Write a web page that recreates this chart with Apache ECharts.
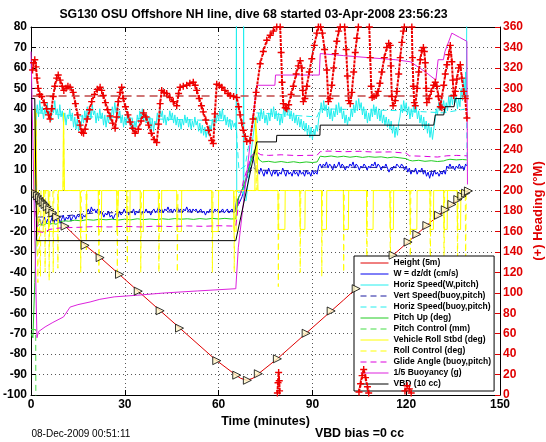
<!DOCTYPE html>
<html>
<head>
<meta charset="utf-8">
<script src="https://cdn.jsdelivr.net/npm/echarts@6/dist/echarts.min.js"></script>
<style>
html,body{margin:0;padding:0;background:#fff;}
#chart{width:546px;height:442px;}
</style>
</head>
<body>
<div id="chart"></div>
<script>
// ---------------- data (time in minutes) ----------------
const titleText = "SG130 OSU Offshore NH line, dive 68 started 03-Apr-2008 23:56:23";
const footerLeft = "08-Dec-2009 00:51:11";
const footerRight = "VBD bias =0 cc";
const xName = "Time (minutes)";
const rightName = "(+) Heading (\u00B0M)";

const depth = [[0.5,0],[2,-2.5],[5,-7.5],[10,-16],[16.6,-25.8],[22.7,-33.5],[40,-57],[58.9,-82.6],[65.3,-90],[67,-91.8],[69,-92.8],[71,-91.8],[73,-89.3],[79,-82],[100,-53.5],[115.8,-31.6],[130,-12.5],[140,0]];

const depthMarks = [[1.5,-1.5],[2.1,-2.6],[2.7,-3.7],[3.3,-4.8],[3.9,-5.8],[4.5,-6.8],[5.2,-7.9],[6.0,-9.3],[7.0,-11],[8.2,-13],[10.9,-17.4],[17.3,-26.8],[22.1,-32.8],[28.3,-41],[34.3,-49.2],[41.3,-58.8],[47.5,-67.3],[59.4,-83.2],[65.8,-90.3],[69.2,-92.8],[72.7,-89.6],[78.8,-82.3],[88,-69.8],[96,-58.9],[104,-48],[115.8,-31.6],[120.6,-25.2],[123.4,-21.4],[126.6,-17.1],[130.3,-12.1],[132.5,-9.4],[134.6,-6.8],[136.5,-4.4],[137.8,-2.8],[139,-1.3],[139.9,-0.2]];

const wSpeed = [[1.5,-3],[1.9,-13],[2.3,-16],[2.8,-14],[3.3,-17],[3.8,-15],[4.3,-13],[4.8,-16],[5.3,-14],[5.8,-17],[6.3,-15],[6.8,-13],[7.3,-16],[7.8,-14],[8.3,-15],[8.8,-13],[9.3,-16],[9.8,-14],[10.3,-12],[10.8,-15],[11.3,-13],[11.8,-14],[12.3,-12],[12.8,-15],[13.3,-13],[13.8,-12],[14.3,-14],[14.8,-12],[15.3,-13],[15.8,-11],[16.3,-14],[16.8,-12],[17.3,-13],[17.8,-11],[18.3,-9],[18.8,-11],[19.3,-8],[19.8,-10],[20.3,-9],[20.8,-11],[21.3,-9],[21.8,-12],[22.3,-10],[22.8,-11],[23.3,-13],[23.8,-11],[24.3,-12],[24.8,-10],[25.3,-13],[25.8,-12],[26.3,-14],[26.8,-12],[27.3,-11],[27.8,-13],[28.3,-10],[28.8,-12],[29.3,-11],[29.8,-9],[30.3,-11],[30.8,-10],[31.3,-12],[31.8,-10],[32.3,-11],[32.8,-9],[33.3,-12],[33.8,-10],[34.3,-11],[34.8,-9],[35.3,-12],[35.8,-10],[36.3,-11],[36.8,-9],[37.3,-11],[37.8,-10],[38.3,-12],[38.8,-10],[39.3,-9],[39.8,-11],[40.3,-10],[40.8,-8],[41.3,-10],[41.8,-9],[42.3,-11],[42.8,-9],[43.3,-10],[43.8,-8],[44.3,-10],[44.8,-9],[45.3,-11],[45.8,-9],[46.3,-10],[46.8,-8],[47.3,-10],[47.8,-9],[48.3,-11],[48.8,-9],[49.3,-10],[49.8,-8],[50.3,-10],[50.8,-9],[51.3,-11],[51.8,-9],[52.3,-10],[52.8,-9],[53.3,-11],[53.8,-10],[54.3,-9],[54.8,-11],[55.3,-10],[55.8,-12],[56.3,-10],[56.8,-11],[57.3,-9],[57.8,-10],[58.3,-11],[58.8,-9],[59.3,-10],[59.8,-9],[60.3,-11],[60.8,-10],[61.3,-9],[61.8,-11],[62.3,-10],[62.8,-9],[63.3,-11],[63.8,-10],[64.3,-9],[64.8,-11],[65.3,-10],[65.8,-4],[66.5,-6.5],[67.5,-3],[68.5,3],[69.5,10],[70.5,17],[71.2,15],[72.0,9],[72.5,10],[73,8],[73.5,11],[74,9],[74.5,7],[75,10],[75.5,8],[76,11],[76.5,9],[77,7],[77.5,10],[78,8],[78.5,10],[79,7],[79.5,9],[80,8],[80.5,11],[81,9],[81.5,7],[82,10],[82.5,8],[83,9],[83.5,7],[84,10],[84.5,8],[85,9],[85.5,7],[86,10],[86.5,8],[87,9],[87.5,7],[88,10],[88.5,8],[89,9],[89.5,7],[90,10],[90.5,8],[91,9],[91.5,8],[92,12],[92.5,13],[93,11],[93.5,13],[94,12],[94.5,14],[95,11],[95.5,13],[96,12],[96.5,10],[97,13],[97.5,11],[98,12],[98.5,14],[99,11],[99.5,13],[100,12],[100.5,10],[101,12],[101.5,11],[102,13],[102.5,12],[103,14],[103.5,11],[104,13],[104.5,12],[105,10],[105.5,12],[106,11],[106.5,13],[107,12],[107.5,10],[108,12],[108.5,11],[109,13],[109.5,12],[110,14],[110.5,11],[111,13],[111.5,12],[112,10],[112.5,12],[113,11],[113.5,13],[114,11],[114.5,9],[115,11],[115.5,10],[116,12],[116.5,11],[117,13],[117.5,12],[118,11],[118.5,13],[119,12],[119.5,10],[120,12],[120.5,9],[121,11],[121.5,8],[122,10],[122.5,9],[123,11],[123.5,8],[124,10],[124.5,9],[125,11],[125.5,8],[126,10],[126.5,7],[127,9],[127.5,6],[128,9],[128.5,7],[129,10],[129.5,8],[130,9],[130.5,7],[131,9],[131.5,8],[132,10],[132.5,8],[133,12],[133.5,11],[134,13],[134.5,11],[135,12],[135.5,10],[136,12],[136.5,11],[137,13],[137.5,11],[138,12],[138.5,10],[139,13],[139.4,12]];

const horizSpeed = [[1.3,0],[1.5,20],[1.7,38],[2.0,42],[2.4,36],[2.8,44],[3.2,38],[3.6,41],[4.0,35],[4.4,40],[4.8,37],[5.2,43],[5.6,36],[6.0,39],[6.4,34],[6.8,41],[7.2,38],[7.6,44],[8.0,37],[8.4,40],[8.8,35],[9.2,42],[9.6,36],[10.0,39],[10.4,33],[10.8,38],[11.2,32],[11.6,37],[12.0,35],[12.4,40],[12.8,34],[13.2,38],[13.6,31],[14.0,36],[14.4,30],[14.8,35],[15.2,29],[15.6,34],[16.0,31],[16.4,37],[16.8,33],[17.2,39],[17.6,34],[18.0,41],[18.4,36],[18.8,40],[19.2,35],[19.6,42],[20.0,37],[20.4,39],[20.8,33],[21.2,38],[21.6,34],[22.0,40],[22.4,35],[22.8,38],[23.2,32],[23.6,37],[24.0,31],[24.4,36],[24.8,33],[25.2,38],[25.6,34],[26.0,41],[26.4,37],[26.8,43],[27.2,38],[27.6,41],[28.0,35],[28.4,39],[28.8,33],[29.2,37],[29.6,31],[30.0,36],[30.4,32],[30.8,38],[31.2,33],[31.6,36],[32.0,30],[32.4,35],[32.8,29],[33.2,34],[33.6,31],[34.0,37],[34.4,33],[34.8,39],[35.2,35],[35.6,40],[36.0,34],[36.4,38],[36.8,33],[37.2,37],[37.6,31],[38.0,36],[38.4,30],[38.8,35],[39.2,29],[39.6,34],[40.0,32],[40.4,38],[40.8,34],[41.2,40],[41.6,36],[42.0,39],[42.4,33],[42.8,37],[43.2,32],[43.6,36],[44.0,34],[44.4,39],[44.8,35],[45.2,38],[45.6,33],[46.0,37],[46.4,32],[46.8,36],[47.2,31],[47.6,35],[48.0,30],[48.4,35],[48.8,32],[49.2,37],[49.6,33],[50.0,36],[50.4,31],[50.8,35],[51.2,30],[51.6,34],[52.0,31],[52.4,36],[52.8,32],[53.2,34],[53.6,29],[54.0,33],[54.4,28],[54.8,32],[55.2,27],[55.6,31],[56.0,26],[56.4,30],[56.8,27],[57.2,32],[57.6,29],[58.0,35],[58.4,31],[58.8,37],[59.2,33],[59.6,38],[60.0,34],[60.4,39],[60.8,35],[61.2,40],[61.6,34],[62.0,37],[62.4,32],[62.8,36],[63.2,31],[63.6,35],[64.0,30],[64.4,34],[64.8,31],[65.2,33],[65.6,30],[65.7,90],[65.8,0],[66.5,-1],[67.2,0],[67.9,-2],[68.0,90],[68.1,-4],[68.8,-5],[69.5,5],[70.2,15],[70.8,24],[71.4,31],[72.0,36],[72.4,33],[72.8,38],[73.2,34],[73.6,40],[74.0,35],[74.4,39],[74.8,33],[75.2,37],[75.6,32],[76.0,38],[76.4,34],[76.8,40],[77.2,36],[77.6,41],[78.0,35],[78.4,39],[78.8,34],[79.2,38],[79.6,32],[80.0,37],[80.4,33],[80.8,40],[81.2,36],[81.6,42],[82.0,37],[82.4,41],[82.8,35],[83.2,39],[83.6,34],[84.0,38],[84.4,33],[84.8,37],[85.2,32],[85.6,36],[86.0,31],[86.4,35],[86.8,30],[87.2,34],[87.6,29],[88.0,33],[88.4,27],[88.8,32],[89.2,26],[89.6,31],[90.0,25],[90.4,30],[90.8,27],[91.2,32],[91.6,29],[92.0,35],[92.4,38],[92.8,43],[93.2,38],[93.6,44],[94.0,39],[94.4,42],[94.8,36],[95.2,41],[95.6,35],[96.0,40],[96.4,34],[96.8,39],[97.2,36],[97.6,42],[98.0,37],[98.4,43],[98.8,38],[99.2,41],[99.6,35],[100.0,39],[100.4,33],[100.8,37],[101.2,32],[101.6,36],[102.0,34],[102.4,40],[102.8,36],[103.2,42],[103.6,38],[104.0,44],[104.4,39],[104.8,45],[105.2,40],[105.6,43],[106.0,37],[106.4,41],[106.8,35],[107.2,39],[107.6,33],[108.0,38],[108.4,34],[108.8,40],[109.2,36],[109.6,42],[110.0,37],[110.4,41],[110.8,35],[111.2,40],[111.6,34],[112.0,39],[112.4,33],[112.8,37],[113.2,32],[113.6,36],[114.0,31],[114.4,35],[114.8,30],[115.2,34],[115.6,28],[116.0,32],[116.4,26],[116.8,31],[117.2,27],[117.6,33],[118.0,36],[118.4,42],[118.8,38],[119.2,44],[119.6,39],[120.0,43],[120.4,37],[120.8,41],[121.2,35],[121.6,40],[122.0,36],[122.4,42],[122.8,38],[123.2,41],[123.6,35],[124.0,39],[124.4,33],[124.8,37],[125.2,31],[125.6,36],[126.0,30],[126.4,34],[126.8,28],[127.2,33],[127.6,26],[128.0,31],[128.4,25],[128.8,30],[129.2,34],[129.6,40],[130.0,37],[130.4,43],[130.8,39],[131.2,45],[131.6,40],[132.0,44],[132.4,38],[132.8,43],[133.2,39],[133.6,46],[134.0,41],[134.4,47],[134.8,42],[135.2,48],[135.6,43],[136.0,46],[136.4,40],[136.8,45],[137.2,41],[137.6,50],[138.0,44],[138.4,55],[138.8,46],[139.0,58],[139.2,45],[139.4,90]];

const vertSpeedBuoy = [[2,-13],[10,-12.5],[20,-11],[40,-10.5],[65.5,-10.3],[66.5,-3],[68.5,4],[70.5,12],[72,10],[91.5,9.5],[92.5,11.5],[120,11.2],[121,9.5],[132,9.3],[133,11],[139.4,11]];

const horizSpeedBuoy = [[2,38],[10,37],[20,36],[40,35],[65.5,34],[66.5,10],[68.5,12],[70.5,30],[72,38],[91.5,36],[92.5,40],[120,39],[132,38],[139.3,40],[139.5,12]];

const pitchUp = [[0,-70],[0.6,-72],[1.2,-45],[1.7,-20],[2.2,-17],[3,-16.5],[4,-17],[5,-16],[6,-16.5],[7,-16],[8,-16.5],[9,-15.5],[10,-15],[11,-14.8],[12,-15],[14,-14.5],[16,-14.8],[18,-14.2],[20,-14.5],[22,-14],[24,-14.3],[26,-14],[28,-14.4],[30,-14],[32,-14.3],[34,-13.8],[36,-14.2],[38,-13.9],[40,-14.2],[42,-13.8],[44,-14.1],[46,-13.7],[48,-14],[50,-13.8],[52,-14.1],[54,-13.7],[56,-14],[58,-13.6],[60,-13.9],[62,-13.6],[64,-13.9],[65.5,-13.8],[66.2,-4],[67.5,0],[70,12],[71.5,20],[73,15],[74,14],[76,14.3],[78,13.8],[80,14.2],[82,13.7],[84,14.1],[86,13.6],[88,14],[90,13.7],[91.5,14],[92.5,16.8],[94,16.5],[96,16.9],[98,16.4],[100,16.8],[102,16.3],[104,16.7],[106,16.2],[108,16.6],[110,16.3],[112,16.5],[114,16],[116,16.4],[118,16],[120,15.6],[121,14.8],[122,14.5],[124,14.8],[126,14.3],[128,14.6],[130,14.2],[132,14.5],[133,15],[134,15.3],[136,15],[138,15.2],[139.4,15]];

const pitchControl = [[0,-68],[1.5,-68],[1.55,-105]];

const roll = [[0,0],[1.0,0],[1.3,40],[1.6,30],[1.9,-10],[2.1,-20],[3.9,-20],[4.0,0],[5.5,0],[5.6,-20],[8.6,-20],[8.7,0],[10.2,0],[10.4,38],[10.7,0],[15.7,0],[15.8,-20],[17.7,-20],[17.8,0],[21.5,0],[21.6,-20],[22.5,-20],[22.6,0],[27.4,0],[27.5,-20],[27.9,-20],[28.0,0],[30.6,0],[30.7,-20],[31.6,-20],[31.7,0],[34.9,0],[35.0,-20],[35.9,-20],[36.0,0],[40.7,0],[40.8,-20],[41.7,-20],[41.8,0],[46.6,0],[46.7,-20],[48.1,-20],[48.2,0],[57.8,0],[57.9,-20],[59.9,-20],[60.0,0],[64.8,0],[64.9,-20],[65.6,-20],[65.7,0],[71.6,0],[71.8,36],[72.3,25],[72.6,0],[79.0,0],[79.1,-19],[81.2,-19],[81.3,0],[86.0,0],[86.1,-19],[87.6,-19],[87.7,0],[92.9,0],[93.0,-19],[94.5,-19],[94.6,0],[99.9,0],[100.0,-19],[101.5,-19],[101.6,0],[107.3,0],[107.4,-19],[109.4,-19],[109.5,0],[114.8,0],[114.9,-19],[115.9,-19],[116.0,0],[121.2,0],[121.3,-19],[123.4,-19],[123.5,0],[127.6,0],[127.7,-19],[128.7,-19],[128.8,0],[132.0,0],[132.1,-19],[133.1,-19],[133.2,0],[136.3,0],[136.4,-19],[137.4,-19],[137.5,0],[139.4,0]];

const rollControl = [[0,0],[1.5,0],[1.6,38],[1.8,0],[2.1,0],[2.2,-45],[2.4,0],[2.9,0],[3.0,-42],[3.2,0],[4.4,0],[4.5,-40],[4.7,0],[5.7,0],[5.8,-44],[6.0,0],[7.0,0],[7.1,-40],[7.3,0],[8.5,0],[8.6,-38],[8.8,0],[10.3,0],[10.4,38],[10.6,0],[15.8,0],[15.9,-40],[16.1,0],[17.6,0],[17.7,-30],[17.9,0],[21.6,0],[21.7,-40],[21.9,0],[27.5,0],[27.6,-40],[27.8,0],[30.7,0],[30.8,-36],[31,0],[35,0],[35.1,-40],[35.3,0],[40.8,0],[40.9,-40],[41.1,0],[46.7,0],[46.8,-40],[47,0],[57.9,0],[58,-40],[58.2,0],[64.9,0],[65,-40],[65.2,0],[72,0],[72.1,30],[72.3,0],[79,0],[79.1,-47],[79.3,0],[86,0],[86.1,-40],[86.3,0],[92.9,0],[93,-42],[93.2,0],[99.9,0],[100,-40],[100.2,0],[107.3,0],[107.4,-45],[107.6,0],[114.8,0],[114.9,-40],[115.1,0],[121.2,0],[121.3,-42],[121.5,0],[127.6,0],[127.7,-40],[127.9,0],[132,0],[132.1,-40],[132.3,0],[136.3,0],[136.4,-40],[136.6,0],[138.9,0],[139,-40],[139.2,0]];

const glideAngle = [[1.5,-10],[2.2,-20],[4,-20.5],[6,-19],[8,-18.5],[10,-18.2],[15,-18],[20,-17.6],[25,-17.8],[30,-17.5],[35,-17.8],[40,-17.4],[45,-17.6],[50,-17.3],[55,-17.5],[60,-17.2],[65.5,-17.4],[66.5,-5],[68,5],[70.5,17],[72,19],[73.5,17.5],[76,17.2],[80,17.5],[85,17.1],[91.5,17.3],[92.5,19],[95,19.3],[100,19],[105,19.2],[110,18.8],[115,18.9],[120,18.3],[121,17],[125,16.8],[130,16.4],[133,17],[136,17.2],[139.4,17]];

const buoyancy = [[0,68],[0.2,68],[1.9,-72],[2.4,-69],[4.5,-66.7],[7,-64.5],[10.4,-61.8],[12.5,-57],[15,-55.8],[18.9,-54.5],[22,-53.2],[26.6,-52],[34,-51.2],[42.6,-50.1],[53.3,-49.1],[65.5,-48],[66.3,-28],[72.2,51.5],[78,51.5],[78.2,56.5],[92.2,56.5],[92.5,67],[100,66],[108,65],[116.5,64],[121.3,63],[124.5,59.8],[127,57],[129.5,54],[130.2,64],[131.9,64],[132.4,68],[134.6,77],[137,75],[139.4,73],[139.6,3]];

const vbd = [[0,45],[1.2,45],[1.8,-24.5],[65.5,-24.5],[72.2,23.8],[78.5,23.8],[78.6,27],[92.4,27],[92.5,32],[128.8,32],[129.3,37],[132.0,37],[132.4,41],[135.3,41],[135.7,45],[139.5,45]];

const heading = [[0.5,318],[0.8,325],[1.2,328],[1.6,321],[1.9,310],[2.3,300],[2.8,294],[3.4,292],[4.2,286],[5.0,280],[5.6,274],[6.1,270],[6.6,280],[7.1,292],[7.6,302],[8.2,310],[8.7,313],[9.3,308],[10.0,302],[10.5,298],[11.2,300],[11.8,302],[12.5,301],[13.5,296],[14.2,285],[14.9,274],[15.7,264],[16.2,257],[16.8,256],[17.3,260],[18.0,270],[18.7,279],[19.4,287],[20.3,294],[21.2,299],[22.1,301],[22.6,298],[23.1,293],[23.8,286],[24.5,279],[25.3,273],[26.1,266],[26.9,261],[27.4,272],[27.9,287],[28.5,296],[29.0,301],[29.5,290],[30.2,282],[31.0,274],[31.7,267],[32.5,261],[33.3,256],[34.3,260],[35.2,268],[36.0,276],[36.8,272],[37.6,264],[38.5,256],[39.4,250],[40.2,247],[40.8,265],[41.3,285],[41.8,298],[42.6,296],[43.4,295],[44.4,291],[45.5,287],[46.6,283],[47.2,295],[47.7,301],[48.7,302],[49.8,303],[50.8,305],[51.9,306],[52.5,303],[53.0,298],[53.8,290],[54.5,283],[55.1,277],[55.9,269],[56.8,259],[57.8,249],[58.3,246],[58.8,275],[59.4,304],[60.2,303],[61.0,301],[62.0,298],[63.0,295],[63.7,293],[64.8,292],[65.8,291],[66.4,282],[66.9,274],[67.4,266],[67.9,259],[68.5,253],[69.0,248],[70.1,249],[71.0,270],[72.0,296],[73.3,324],[74.3,336],[75.4,347],[76.5,352],[77.5,356],[78.6,360],
[78.7,'-'],[78.8,2],[79.0,12],[79.2,22],[79.4,14],[79.5,4],[79.6,'-'],
[79.7,360],[80.0,335],[80.3,306],[80.7,285],[81.3,281],[81.8,280],[82.4,284],[83.2,294],[83.9,302],[84.8,314],[85.5,322],[86.1,327],[86.6,320],[86.9,298],[87.1,287],[87.6,290],[88.2,302],[89.0,316],[89.8,329],[90.6,342],[91.4,354],[91.9,360],[92.6,360],[93.2,354],[93.9,338],[94.6,318],[95.1,287],[95.6,290],[96.2,303],[96.8,320],[97.3,334],[97.8,346],[98.4,356],[98.9,360],[100.3,360],[100.8,338],[101.2,312],[101.6,288],[102.1,285],[102.6,296],[103.2,316],[103.7,335],[104.2,349],[104.7,360],
[104.8,'-'],[104.9,3],[105.4,11],[105.9,19],[106.4,25],[107.0,17],[107.6,8],[108.0,2],[108.1,'-'],
[108.2,360],[108.5,330],[108.8,302],[109.1,291],[109.7,292],[110.4,293],[111.0,297],[111.6,305],[112.2,316],[113.0,330],[113.8,340],[114.4,344],[114.9,342],[115.1,322],[115.4,292],[115.8,283],[116.5,288],[117.0,297],[117.6,314],[118.1,330],[118.6,345],[119.1,356],[119.4,360],
[119.5,'-'],[119.6,4],[120.3,9],[121.0,6],[121.6,2],[121.7,'-'],
[121.8,360],[122.0,330],[122.3,302],[122.6,286],[122.9,283],[123.5,300],[124.0,316],[124.5,328],[125.0,337],[125.5,340],[125.8,336],[126.1,325],[126.4,300],[126.6,286],[127.3,290],[128.0,297],[128.8,303],[129.3,306],[129.8,302],[130.3,292],[130.9,282],[131.4,281],[132.0,303],[132.5,314],[133.0,323],[133.6,333],[134.1,342],[134.6,326],[134.9,308],[135.2,293],[135.7,297],[136.2,309],[136.8,320],[137.3,323],[137.8,310],[138.4,297],[138.9,290],[139.4,271]];

const targetHeading = [[0.5,292.5],[140,292.5]];

const legendNames = ["Height (5m)","W = dz/dt (cm/s)","Horiz Speed(W,pitch)","Vert Speed(buoy,pitch)","Horiz Speed(buoy,pitch)","Pitch Up (deg)","Pitch Control (mm)","Vehicle Roll Stbd (deg)","Roll Control (deg)","Glide Angle (buoy,pitch)","1/5 Buoyancy (g)","VBD (10 cc)"];

// ---------------- chart ----------------
const FONT = "'Liberation Sans', Arial, Helvetica, sans-serif";
const DASH = [6, 4];
function ln(name, data, color, dashed, extra) {
  return Object.assign({
    name: name, type: 'line', data: data, symbol: 'none',
    xAxisIndex: 0, yAxisIndex: 0,
    lineStyle: { color: color, width: 1, type: dashed ? DASH : 'solid' },
    itemStyle: { color: color },
    emphasis: { disabled: true }, silent: true, animation: false, z: 2
  }, extra || {});
}
const CROSS = 'path://M4,0H6V4H10V6H6V10H4V6H0V4H4Z';

const chart = echarts.init(document.getElementById('chart'), null, { renderer: 'canvas' });
const option = {
  animation: false,
  backgroundColor: '#ffffff',
  grid: { left: 31, right: 46, top: 27, bottom: 47, containLabel: false },
  xAxis: [{
    type: 'value', position: 'bottom', min: 0, max: 150, interval: 30,
    axisLine: { show: true, onZero: false, lineStyle: { color: '#000', width: 1 } },
    axisTick: { show: true, inside: true, length: 5, lineStyle: { color: '#000' } },
    axisLabel: { margin: 4, color: '#000', fontFamily: FONT, fontSize: 12, fontWeight: 'bold' },
    splitLine: { show: true, lineStyle: { color: '#555', type: [1, 3], width: 1 } }
  }, {
    type: 'value', position: 'top', min: 0, max: 150, interval: 30,
    axisLine: { show: true, onZero: false, lineStyle: { color: '#000', width: 1 } },
    axisTick: { show: true, inside: true, length: 5, lineStyle: { color: '#000' } },
    axisLabel: { show: false }, splitLine: { show: false }
  }],
  yAxis: [{
    type: 'value', position: 'left', min: -100, max: 80, interval: 10,
    axisLine: { show: true, onZero: false, lineStyle: { color: '#000', width: 1 } },
    axisTick: { show: true, inside: true, length: 5, lineStyle: { color: '#000' } },
    axisLabel: { margin: 4, color: '#000', fontFamily: FONT, fontSize: 12, fontWeight: 'bold' },
    splitLine: { show: true, lineStyle: { color: '#555', type: [1, 3], width: 1 } }
  }, {
    type: 'value', position: 'right', min: 0, max: 360, interval: 20,
    axisLine: { show: true, onZero: false, lineStyle: { color: '#000', width: 1 } },
    axisTick: { show: true, inside: true, length: 5, lineStyle: { color: '#e00000' } },
    axisLabel: { margin: 3, color: '#e00000', fontFamily: FONT, fontSize: 12, fontWeight: 'bold' },
    splitLine: { show: false }
  }],
  legend: {
    data: legendNames, orient: 'vertical', left: 354, top: 256,
    padding: [2, 3, 2, 6], itemGap: 1, itemWidth: 28, itemHeight: 10,
    backgroundColor: '#ffffff', borderColor: '#000', borderWidth: 1, borderRadius: 0,
    selectedMode: false,
    itemStyle: { opacity: 0, borderWidth: 0 },
    lineStyle: { width: 1 },
    textStyle: { fontFamily: FONT, fontSize: 8.5, fontWeight: 'bold', color: '#000', lineHeight: 10 }
  },
  series: [
    ln(legendNames[0], depth, '#e00000', false),
    ln(legendNames[1], wSpeed, '#0000f0', false),
    ln(legendNames[2], horizSpeed, '#22eeee', false),
    ln(legendNames[3], vertSpeedBuoy, '#1a1aa0', true),
    ln(legendNames[4], horizSpeedBuoy, '#22eeee', true),
    ln(legendNames[5], pitchUp, '#22cc22', false),
    ln(legendNames[6], pitchControl, '#44dd44', true),
    ln(legendNames[7], roll, '#ffff00', false),
    ln(legendNames[8], rollControl, '#ffff00', true),
    ln(legendNames[9], glideAngle, '#dd00dd', true),
    ln(legendNames[10], buoyancy, '#dd22dd', false),
    ln(legendNames[11], vbd, '#000000', false),
    {
      name: 'depthMarks', type: 'scatter', data: depthMarks, xAxisIndex: 0, yAxisIndex: 0,
      symbol: 'triangle', symbolSize: 8, symbolRotate: -90,
      itemStyle: { color: '#fff8c8', borderColor: '#000', borderWidth: 1 },
      silent: true, z: 4
    },
    {
      name: 'targetHeading', type: 'line', data: targetHeading, xAxisIndex: 0, yAxisIndex: 1,
      symbol: 'none', lineStyle: { color: '#c04848', width: 1.5, type: [8, 5] },
      silent: true, z: 5
    },
    {
      name: 'heading', type: 'line', data: heading, xAxisIndex: 0, yAxisIndex: 1,
      symbol: CROSS, symbolSize: 7, showAllSymbol: true, connectNulls: false,
      lineStyle: { color: '#ee0000', width: 2, type: [3, 1] },
      itemStyle: { color: '#ee0000' },
      silent: true, z: 6
    }
  ],
  graphic: [
    { type: 'text', x: 253.5, y: 14.5, style: { text: titleText, font: 'bold 12.3px ' + FONT, fill: '#000', textAlign: 'center', textVerticalAlign: 'middle' } },
    { type: 'text', x: 265.5, y: 421.5, style: { text: xName, font: 'bold 12.5px ' + FONT, fill: '#000', textAlign: 'center', textVerticalAlign: 'middle' } },
    { type: 'text', x: 31.5, y: 434.5, style: { text: footerLeft, font: '10px ' + FONT, fill: '#000', textAlign: 'left', textVerticalAlign: 'middle' } },
    { type: 'text', x: 359.5, y: 434, style: { text: footerRight, font: 'bold 12.4px ' + FONT, fill: '#000', textAlign: 'center', textVerticalAlign: 'middle' } },
    { type: 'text', x: 538, y: 211, rotation: Math.PI / 2, style: { text: rightName, font: 'bold 13px ' + FONT, fill: '#e00000', textAlign: 'center', textVerticalAlign: 'middle' } }
  ]
};
chart.setOption(option);
</script>
</body>
</html>
